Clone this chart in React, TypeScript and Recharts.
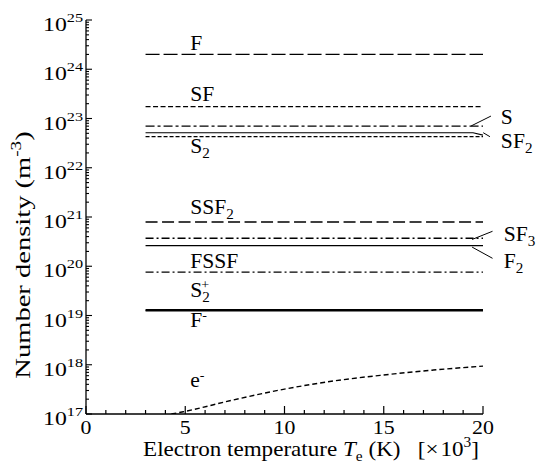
import React from 'react';
import { LineChart, Line, XAxis, YAxis, ReferenceDot, ReferenceLine } from 'recharts';

const FONT = '"Liberation Serif", "Times New Roman", serif';

// ---- data (electron temperature in 10^3 K, number density in m^-3) ----
const flatTemps = [3, 20];
const sf2Temps = [3, 19.5, 20];
const electronTemps = [4.3, 4.9, 7.4, 10, 12.5, 15, 17.5, 20];

const fValues = [2.0e24, 2.0e24];
const sfValues = [1.75e23, 1.75e23];
const sValues = [7.0e22, 7.0e22];
const sf2Values = [5.15e22, 5.15e22, 4.6e22];
const s2Values = [4.27e22, 4.27e22];
const ssf2Values = [7.9e20, 7.9e20];
const sf3Values = [3.7e20, 3.7e20];
const f2Values = [2.63e20, 2.63e20];
const fssfValues = [7.6e19, 7.6e19];
const s2PlusValues = [1.3e19, 1.3e19];
const fMinusValues = [1.25e19, 1.25e19];
const electronValues = [1.0e17, 1.11e17, 1.92e17, 3.2e17, 4.7e17, 6.2e17, 7.8e17, 9.4e17];

// ---- ticks ----
const xTicks = [0, 1, 2, 3, 4, 5, 6, 7, 8, 9, 10, 11, 12, 13, 14, 15, 16, 17, 18, 19, 20];
const xMajorTicks = [0, 5, 10, 15, 20];
const yDecades = [17, 18, 19, 20, 21, 22, 23, 24, 25];
const yMinorMultipliers = [2, 3, 4, 5, 6, 7, 8, 9];

// ---- annotations: label text and anchor (data coords) ----
const labelNames = ['F', 'SF', 'S2', 'SSF2', 'FSSF', 'S2+', 'F-', 'e-', 'S', 'SF2', 'SF3', 'F2'];
const labelTemps = [5.25, 5.25, 5.25, 5.25, 5.25, 5.25, 5.25, 5.25, 20.9, 20.9, 21.05, 21.05];
const labelDensities = [2.45e24, 2.26e23, 2.0e22, 1.15e21, 9.2e19, 2.35e19, 5.9e18, 3.53e17, 7.7e22, 2.5e22, 3.24e20, 9.2e19];

const leaderStartTemps = [19.4, 20.01, 19.45, 19.45];
const leaderStartDensities = [7.05e22, 5.15e22, 3.5e20, 2.45e20];
const leaderEndTemps = [20.4, 20.35, 20.48, 20.48];
const leaderEndDensities = [1.12e23, 4.27e22, 5.13e20, 1.45e20];

const yTicks: number[] = [];
yDecades.forEach((d) => {
  yTicks.push(Number(`1e${d}`));
  if (d < 25) yMinorMultipliers.forEach((k) => yTicks.push(Number(`${k}e${d}`)));
});

const rows = (temps: number[], values: number[]) => temps.map((t, i) => ({ t, v: values[i] }));

const series = [
  { key: 'F', data: rows(flatTemps, fValues), dash: '14 4', w: 1.4, type: 'linear' },
  { key: 'SF', data: rows(flatTemps, sfValues), dash: '5 2.5', w: 1.3, type: 'linear' },
  { key: 'S', data: rows(flatTemps, sValues), dash: '9 3 3 3', w: 1.3, type: 'linear' },
  { key: 'SF2', data: rows(sf2Temps, sf2Values), dash: undefined, w: 1.1, type: 'linear' },
  { key: 'S2', data: rows(flatTemps, s2Values), dash: '4 2', w: 1.3, type: 'linear' },
  { key: 'SSF2', data: rows(flatTemps, ssf2Values), dash: '12 4.5', w: 1.4, type: 'linear' },
  { key: 'SF3', data: rows(flatTemps, sf3Values), dash: '8 3 2 3', w: 1.3, type: 'linear' },
  { key: 'F2', data: rows(flatTemps, f2Values), dash: undefined, w: 1.3, type: 'linear' },
  { key: 'FSSF', data: rows(flatTemps, fssfValues), dash: '8 3 2 3', w: 1.3, type: 'linear' },
  { key: 'S2+', data: rows(flatTemps, s2PlusValues), dash: undefined, w: 1.6, type: 'linear' },
  { key: 'F-', data: rows(flatTemps, fMinusValues), dash: undefined, w: 1.6, type: 'linear' },
  { key: 'e-', data: rows(electronTemps, electronValues), dash: '5 3', w: 1.4, type: 'monotone' },
];

function SpeciesText({ x, y, name }: { x: number; y: number; name: string }) {
  let shift = 0;
  let prevSub = false;
  const parts = name.split('').map((c, i) => {
    let target = 0;
    let size = 20;
    let dx = 0;
    if (/[0-9]/.test(c)) {
      target = 5;
      size = 14;
    } else if (c === '+' || c === '-') {
      target = -8;
      size = 13;
      if (prevSub) dx = -8;
    }
    const dy = target - shift;
    shift = target;
    prevSub = /[0-9]/.test(c);
    return (
      <tspan key={i} fontSize={size} dy={dy} dx={dx}>
        {c}
      </tspan>
    );
  });
  return (
    <text transform={`translate(${x},${y}) scale(1.08,1)`} fontFamily={FONT} fill="#000" textAnchor="start">
      {parts}
    </text>
  );
}

function XTick(props: any) {
  const { x, y, payload } = props;
  const v = payload.value;
  const major = xMajorTicks.includes(v);
  return (
    <g>
      <line x1={x} x2={x} y1={y} y2={y - (major ? 8 : 4)} stroke="#000" strokeWidth={1.2} />
      {major && (
        <text
          transform={`translate(${x},${y + 20}) scale(1.15,1)`}
          textAnchor="middle"
          fontFamily={FONT}
          fontSize={19}
          fill="#000"
        >
          {v}
        </text>
      )}
    </g>
  );
}

function YTick(props: any) {
  const { x, y, payload } = props;
  const v = payload.value;
  const e = Math.round(Math.log10(v));
  const major = Math.abs(v / Math.pow(10, e) - 1) < 1e-6;
  return (
    <g>
      <line x1={x} x2={x + (major ? 6 : 3)} y1={y} y2={y} stroke="#000" strokeWidth={1.1} />
      {major && (
        <text
          transform={`translate(${x - 3},${y + 11}) scale(1.25,1)`}
          textAnchor="end"
          fontFamily={FONT}
          fill="#000"
        >
          <tspan fontSize={19}>10</tspan>
          <tspan fontSize={13} dy={-9}>
            {e}
          </tspan>
        </text>
      )}
    </g>
  );
}

function YLabel(props: any) {
  const vb = props.viewBox || { x: 0, y: 12, width: 78, height: 394 };
  const cx = vb.x + 15;
  const cy = vb.y + 235;
  return (
    <text
      transform={`translate(${cx},${cy}) rotate(-90) scale(1.36,1)`}
      textAnchor="middle"
      fontFamily={FONT}
      fontSize={21}
      fill="#000"
      dy={7}
    >
      <tspan>Number density (m</tspan>
      <tspan fontSize={14} dy={-9}>
        -3
      </tspan>
      <tspan dy={9}>)</tspan>
    </text>
  );
}

function XLabel(props: any) {
  const vb = props.viewBox || { x: 78, y: 406, width: 397, height: 54 };
  const cx = vb.x + 225;
  const cy = vb.y + 42;
  return (
    <text
      transform={`translate(${cx},${cy}) scale(1.1,1)`}
      textAnchor="middle"
      fontFamily={FONT}
      fontSize={21}
      fill="#000"
    >
      <tspan>Electron temperature </tspan>
      <tspan fontStyle="italic">T</tspan>
      <tspan fontSize={14} dy={5}>
        e
      </tspan>
      <tspan dy={-5}>{'\u00a0(K)\u00a0\u00a0\u00a0[\u00d7\u200a10'}</tspan>
      <tspan fontSize={14} dy={-9}>
        3
      </tspan>
      <tspan dy={9}>]</tspan>
    </text>
  );
}

export default function App() {
  return (
    <div style={{ width: 528, height: 460 }}>
      <style>{`body { margin: 8px 0 0 8px; } .recharts-surface, .recharts-wrapper { overflow: visible !important; }`}</style>
      <LineChart width={528} height={460} margin={{ top: 12, right: 53, bottom: 0, left: 0 }}>
        <XAxis
          dataKey="t"
          type="number"
          domain={[0, 20]}
          ticks={xTicks}
          interval={0}
          tickSize={0}
          tickMargin={0}
          tickLine={false}
          tick={<XTick />}
          axisLine={{ stroke: '#000', strokeWidth: 1.3 }}
          height={54}
          allowDataOverflow
          label={{ content: <XLabel /> }}
        />
        <YAxis
          type="number"
          scale="log"
          domain={[1e17, 1e25]}
          ticks={yTicks}
          interval={0}
          tickSize={0}
          tickMargin={0}
          tickLine={false}
          tick={<YTick />}
          axisLine={{ stroke: '#000', strokeWidth: 1.3 }}
          width={78}
          allowDataOverflow
          label={{ content: <YLabel /> }}
        />
        {series.map((s) => (
          <Line
            key={s.key}
            data={s.data}
            dataKey="v"
            type={s.type as any}
            stroke="#000"
            strokeWidth={s.w}
            strokeDasharray={s.dash}
            dot={false}
            activeDot={false}
            isAnimationActive={false}
          />
        ))}
        {leaderStartTemps.map((t, i) => (
          <ReferenceLine
            key={`lead-${i}`}
            segment={[
              { x: t, y: leaderStartDensities[i] },
              { x: leaderEndTemps[i], y: leaderEndDensities[i] },
            ]}
            stroke="#000"
            strokeWidth={1}
            ifOverflow="visible"
          />
        ))}
        {labelNames.map((n, i) => (
          <ReferenceDot
            key={`lab-${n}`}
            x={labelTemps[i]}
            y={labelDensities[i]}
            r={0}
            fill="none"
            stroke="none"
            ifOverflow="visible"
            label={{
              content: (p: any) => {
                const vb = p.viewBox || { x: 0, y: 0, width: 0, height: 0 };
                return <SpeciesText x={vb.x + (vb.width || 0) / 2} y={vb.y + (vb.height || 0) / 2} name={n} />;
              },
            }}
          />
        ))}
      </LineChart>
    </div>
  );
}
